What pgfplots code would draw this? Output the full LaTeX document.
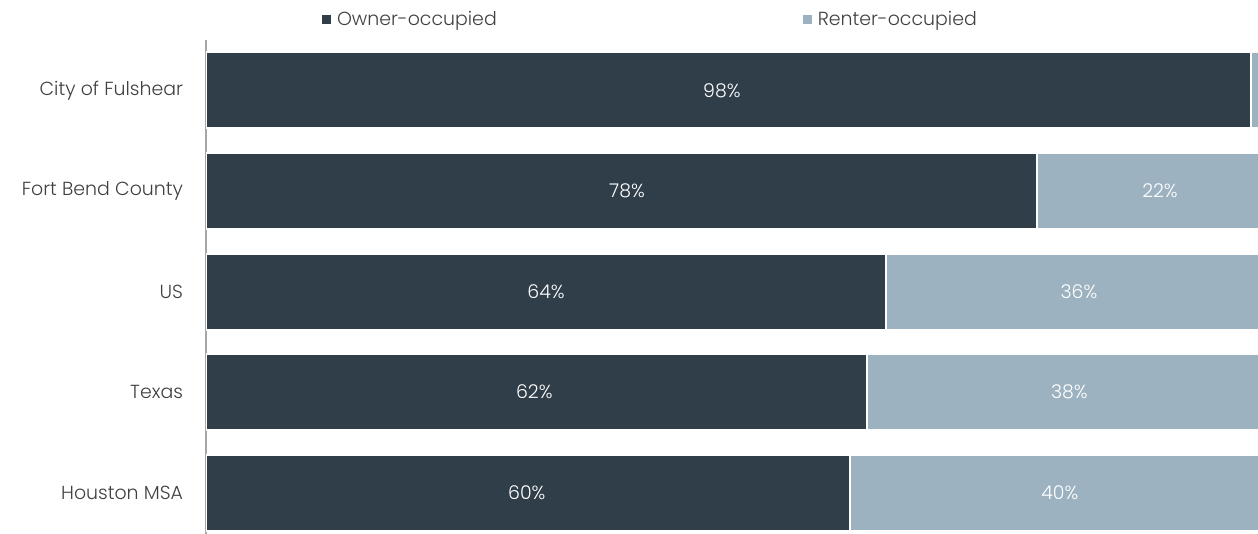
\documentclass[border=0pt]{standalone}
\usepackage{pgfplots}
\pgfplotsset{compat=1.18}
\usepackage{fontspec}
\setmainfont{Poppins}[UprightFont=* Light]
\definecolor{owner}{HTML}{2F3E49}
\definecolor{renter}{HTML}{9DB2C0}
\definecolor{lbl}{HTML}{404040}
\pgfplotsset{
  sqlegend/.style={legend image code/.code={\fill[##1] (0bp,-2.75bp) rectangle (5.5bp,2.75bp);}}
}
\tikzset{barlbl/.style={font=\fontsize{9.5}{11}\selectfont, text=white}}
\begin{document}
\begin{tikzpicture}
\path[use as bounding box] (0bp,0bp) rectangle (629bp,267bp);
\begin{axis}[at={(103bp,0bp)}, anchor=south west, scale only axis,
  width=526bp, height=247bp,
  xbar stacked, bar width=38bp,
  xmin=0, xmax=98.7, ymin=-0.41, ymax=4.5,
  axis x line=none, axis y line*=left,
  y axis line style={draw=gray!70, line width=0.75bp},
  ytick={0,...,4},
  yticklabels={Houston MSA,Texas,US,Fort Bend County,City of Fulshear},
  major tick length=0,
  yticklabel style={font=\fontsize{9.5}{11}\selectfont, text=lbl, xshift=-8bp},
  sqlegend,
  legend style={at={(0.108,1.0405)}, anchor=west, draw=none, fill=none, inner sep=0pt,
    legend columns=2, font=\fontsize{9.5}{11}\selectfont, text=lbl,
    /tikz/every even column/.append style={column sep=150bp}},
]
\addplot[fill=owner, draw=white, line width=1bp] coordinates {(60.4,0) (62,1) (63.8,2) (78,3) (98,4)};
\addplot[fill=renter, draw=white, line width=1bp] coordinates {(39.6,0) (38,1) (36.2,2) (22,3) (2,4)};
\legend{Owner-occupied, Renter-occupied}
\coordinate (o4) at (axis cs:48.4,4);
\coordinate (o3) at (axis cs:39.5,3);
\coordinate (r3) at (axis cs:89.5,3);
\coordinate (o2) at (axis cs:31.9,2);
\coordinate (r2) at (axis cs:81.9,2);
\coordinate (o1) at (axis cs:30.8,1);
\coordinate (r1) at (axis cs:81,1);
\coordinate (o0) at (axis cs:30.1,0);
\coordinate (r0) at (axis cs:80.1,0);
\end{axis}
\node[barlbl] at (o4) {98\%};
\node[barlbl] at (o3) {78\%};
\node[barlbl] at (r3) {22\%};
\node[barlbl] at (o2) {64\%};
\node[barlbl] at (r2) {36\%};
\node[barlbl] at (o1) {62\%};
\node[barlbl] at (r1) {38\%};
\node[barlbl] at (o0) {60\%};
\node[barlbl] at (r0) {40\%};
\end{tikzpicture}
\end{document}
